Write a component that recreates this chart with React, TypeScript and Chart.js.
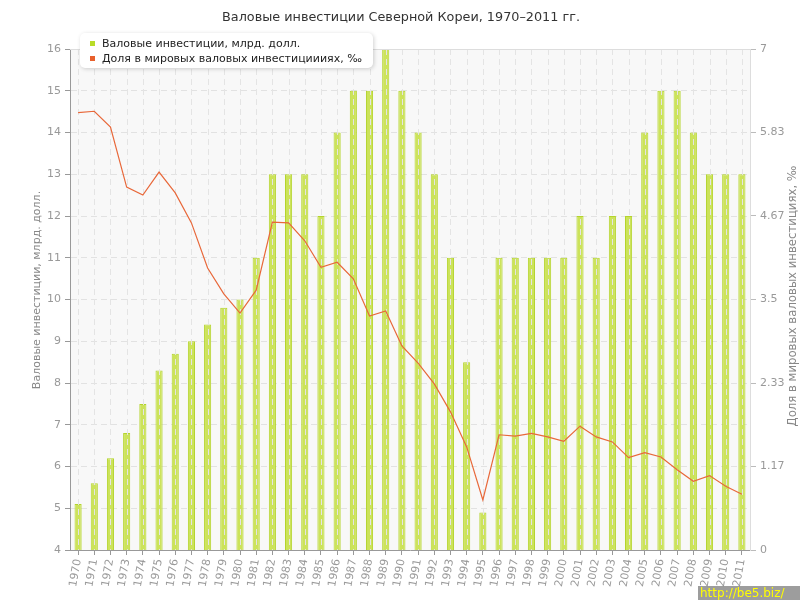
import React, { useEffect, useRef } from "react";
import { Chart, registerables } from "chart.js";

Chart.register(...registerables);

const years = [
  "1970", "1971", "1972", "1973", "1974", "1975", "1976", "1977", "1978", "1979",
  "1980", "1981", "1982", "1983", "1984", "1985", "1986", "1987", "1988", "1989",
  "1990", "1991", "1992", "1993", "1994", "1995", "1996", "1997", "1998", "1999",
  "2000", "2001", "2002", "2003", "2004", "2005", "2006", "2007", "2008", "2009",
  "2010", "2011",
];

// Валовые инвестиции, млрд. долл.
const investment = [
  5.1, 5.6, 6.2, 6.8, 7.5, 8.3, 8.7, 9.0, 9.4, 9.8,
  10.0, 11, 13, 13, 13, 12, 14, 15, 15, 16,
  15, 14, 13, 11, 8.5, 4.9, 11, 11, 11, 11,
  11, 12, 11, 12, 12, 14, 15, 15, 14, 13,
  13, 13,
];

// Доля в мировых валовых инвестициях, ‰
const share = [
  6.11, 6.13, 5.91, 5.07, 4.96, 5.28, 4.99, 4.57, 3.94, 3.58,
  3.31, 3.63, 4.58, 4.57, 4.32, 3.95, 4.02, 3.79, 3.27, 3.34,
  2.85, 2.61, 2.32, 1.93, 1.44, 0.70, 1.61, 1.59, 1.63, 1.58,
  1.52, 1.73, 1.58, 1.51, 1.29, 1.36, 1.30, 1.12, 0.96, 1.04,
  0.89, 0.78,
];

const shareTickLabels = ["0", "1.17", "2.33", "3.5", "4.67", "5.83", "7"];

const TITLE = "Валовые инвестиции Северной Кореи, 1970–2011 гг.";
const LEFT_TITLE = "Валовые инвестиции, млрд. долл.";
const RIGHT_TITLE = "Доля в мировых валовых инвестициях, ‰";
const LEGEND_1 = "Валовые инвестиции, млрд. долл.";
const LEGEND_2 = "Доля в мировых валовых инвестициииях, ‰";
const WATERMARK = "http://be5.biz/";

const FONT = "'DejaVu Sans', Verdana, sans-serif";
const GREEN = "#b4d42c";
const GREEN_FILL = "#cce35a";
const ORANGE = "#e8683a";

const decor = {
  id: "decor",
  beforeDraw(chart: any) {
    const { ctx, chartArea } = chart;
    const { left, top, right, bottom } = chartArea;
    ctx.save();
    ctx.fillStyle = "#ffffff";
    ctx.fillRect(0, 0, chart.width, chart.height);
    ctx.fillStyle = "#f8f8f8";
    ctx.fillRect(left, top, right - left, bottom - top);
    ctx.restore();
  },
  afterDatasetDraw(chart: any, args: any) {
    if (args.index !== 0) return;
    const { ctx, chartArea } = chart;
    const { top, bottom } = chartArea;
    const x = chart.scales.x;
    ctx.save();
    ctx.strokeStyle = "#e4e4e4";
    ctx.lineWidth = 1;
    ctx.setLineDash([6, 4]);
    ctx.beginPath();
    for (let i = 0; i < years.length; i++) {
      const px = Math.round(x.getPixelForValue(i)) + 0.5;
      ctx.moveTo(px, top);
      ctx.lineTo(px, bottom);
    }
    ctx.stroke();
    ctx.restore();
  },
  afterDraw(chart: any) {
    const { ctx, chartArea } = chart;
    const { left, top, right } = chartArea;
    ctx.save();
    // top frame line
    ctx.strokeStyle = "#dddddd";
    ctx.lineWidth = 1;
    ctx.beginPath();
    ctx.moveTo(left, top + 0.5);
    ctx.lineTo(right, top + 0.5);
    ctx.stroke();

    // title
    ctx.fillStyle = "#333333";
    ctx.font = `12.8px ${FONT}`;
    ctx.textAlign = "center";
    ctx.textBaseline = "middle";
    ctx.fillText(TITLE, 401, 18);

    // axis titles
    ctx.fillStyle = "#888888";
    ctx.font = `11px ${FONT}`;
    ctx.save();
    ctx.translate(37, 290);
    ctx.rotate(-Math.PI / 2);
    ctx.fillText(LEFT_TITLE, 0, 0);
    ctx.restore();
    ctx.font = `11.7px ${FONT}`;
    ctx.save();
    ctx.translate(793, 296);
    ctx.rotate(-Math.PI / 2);
    ctx.fillText(RIGHT_TITLE, 0, 0);
    ctx.restore();

    // legend
    ctx.save();
    ctx.shadowColor = "rgba(0,0,0,0.18)";
    ctx.shadowBlur = 4;
    ctx.shadowOffsetX = 1;
    ctx.shadowOffsetY = 1;
    ctx.fillStyle = "#ffffff";
    ctx.beginPath();
    ctx.roundRect(80, 33, 293, 35, 5);
    ctx.fill();
    ctx.restore();
    ctx.fillStyle = "#b8dc28";
    ctx.fillRect(90, 41, 5, 5);
    ctx.fillStyle = "#e8602c";
    ctx.fillRect(90, 56, 5, 5);
    ctx.fillStyle = "#222222";
    ctx.font = `11px ${FONT}`;
    ctx.textAlign = "left";
    ctx.fillText(LEGEND_1, 102, 44);
    ctx.fillText(LEGEND_2, 102, 59);

    // watermark
    ctx.fillStyle = "rgba(140,140,140,0.85)";
    ctx.fillRect(698, 586, 102, 14);
    ctx.fillStyle = "#ffff00";
    ctx.font = `12px ${FONT}`;
    ctx.textAlign = "left";
    ctx.fillText(WATERMARK, 700, 594);
    ctx.restore();
  },
};

export default function App() {
  const ref = useRef<HTMLCanvasElement | null>(null);

  useEffect(() => {
    if (!ref.current) return;
    Chart.defaults.font.family = FONT;
    const chart = new Chart(ref.current, {
      type: "bar",
      data: {
        labels: years,
        datasets: [
          {
            type: "bar",
            label: LEGEND_1,
            data: investment,
            yAxisID: "y",
            backgroundColor: GREEN_FILL,
            borderColor: GREEN,
            borderWidth: 1,
            barPercentage: 0.44,
            categoryPercentage: 1,
            order: 2,
          } as any,
          {
            type: "line",
            label: LEGEND_2,
            data: share,
            yAxisID: "y1",
            borderColor: ORANGE,
            borderWidth: 1.2,
            pointRadius: 0,
            fill: false,
            tension: 0,
            order: 1,
          } as any,
        ],
      },
      options: {
        responsive: false,
        animation: false,
        devicePixelRatio: 1,
        layout: { padding: { top: 49, left: 0, right: 0, bottom: 0 } },
        plugins: {
          legend: { display: false },
          title: { display: false },
          tooltip: { enabled: false },
        },
        scales: {
          x: {
            offset: true,
            grid: {
              offset: false,
              drawOnChartArea: false,
              drawTicks: true,
              tickLength: 5,
              color: "#999999",
            },
            border: { color: "#999999" },
            ticks: {
              color: "#999999",
              font: { size: 11, family: FONT },
              minRotation: 80,
              maxRotation: 80,
              autoSkip: false,
              padding: 3,
            },
            afterFit(scale: any) {
              scale.height = 50;
            },
          },
          y: {
            position: "left",
            min: 4,
            max: 16,
            ticks: {
              stepSize: 1,
              color: "#999999",
              font: { size: 11, family: FONT },
              padding: 4,
            },
            grid: {
              color: "#e2e2e2",
              tickColor: "#999999",
              tickLength: 5,
            },
            border: { color: "#999999", dash: [6, 4] } as any,
            afterFit(scale: any) {
              scale.width = 70;
            },
          },
          y1: {
            position: "right",
            min: 0,
            max: 7,
            afterBuildTicks(scale: any) {
              scale.ticks = shareTickLabels.map((_, i) => ({ value: (i * 7) / 6 }));
            },
            ticks: {
              color: "#999999",
              font: { size: 11, family: FONT },
              padding: 4,
              callback: (_v: any, i: number) => shareTickLabels[i],
            },
            grid: {
              drawOnChartArea: false,
              color: "#bbbbbb",
              tickLength: 6,
            },
            border: { color: "#dddddd" },
            afterFit(scale: any) {
              scale.width = 50;
            },
          },
        },
      },
      plugins: [decor],
    } as any);
    return () => chart.destroy();
  }, []);

  return (
    <div style={{ position: "absolute", left: 0, top: 0, width: 800, height: 600 }}>
      <canvas ref={ref} width={800} height={600} style={{ width: 800, height: 600 }} />
    </div>
  );
}
